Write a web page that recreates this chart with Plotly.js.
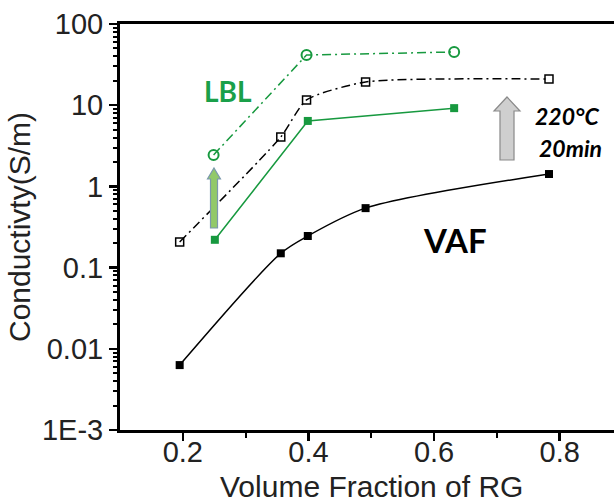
<!DOCTYPE html>
<html><head><meta charset="utf-8">
<script src="https://cdn.plot.ly/plotly-3.0.1.min.js"></script>
<style>html,body{margin:0;padding:0;background:#fff}#plot{width:614px;height:504px}</style>
</head><body><div id="plot"></div>
<script>
// Data
const vafX = [0.195, 0.356, 0.399, 0.491, 0.783];
const vafY = [0.0063, 0.15, 0.245, 0.54, 1.42];
const vafAnnX = [0.195, 0.356, 0.397, 0.491, 0.783];
const vafAnnY = [0.207, 4.06, 11.6, 19.3, 21.0];
const lblX = [0.251, 0.399, 0.632];
const lblY = [0.22, 6.4, 9.2];
const lblAnnX = [0.249, 0.397, 0.632];
const lblAnnY = [2.44, 41.5, 45.2];
const yTickVals = [0.001, 0.01, 0.1, 1, 10, 100];
const yTickText = ['1E-3', '0.01', '0.1', '1', '10', '100'];
const xTickVals = [0.2, 0.4, 0.6, 0.8];
const xMinorVals = [0.3, 0.5, 0.7];
const yMinorVals = [];
for (let d = -3; d < 2; d++) for (let m = 2; m <= 9; m++) yMinorVals.push(m * Math.pow(10, d));

const green = '#17993f';
const dashdot = '9px,4px,2px,4px';
const traces = [
  {x: vafX, y: vafY, mode: 'lines+markers', line: {color: '#000', width: 1.5, shape: 'spline', smoothing: 0.8},
   marker: {symbol: 'square', size: 8, color: '#000'}},
  {x: vafAnnX, y: vafAnnY, mode: 'lines+markers', line: {color: '#000', width: 1.5, shape: 'spline', smoothing: 0.6, dash: dashdot},
   marker: {symbol: 'square-open', size: 8, color: '#000', line: {width: 1.5}}},
  {x: lblX, y: lblY, mode: 'lines+markers', line: {color: green, width: 1.5},
   marker: {symbol: 'square', size: 8, color: green}},
  {x: lblAnnX, y: lblAnnY, mode: 'lines+markers', line: {color: green, width: 1.5, dash: dashdot},
   marker: {symbol: 'circle-open', size: 10, color: green, line: {width: 2}}}
];

// pixel -> paper helpers for decorative shapes/labels
const L = 120, T = 24, W = 494, H = 406;
const px = v => (v - L) / W, py = v => (T + H - v) / H;
function arrow(cx, tip, headBase, bottom, bodyHalf, headHalf) {
  const pts = [[cx, tip], [cx + headHalf, headBase], [cx + bodyHalf, headBase], [cx + bodyHalf, bottom],
               [cx - bodyHalf, bottom], [cx - bodyHalf, headBase], [cx - headHalf, headBase]];
  return 'M' + pts.map(p => px(p[0]).toFixed(4) + ',' + py(p[1]).toFixed(4)).join(' L') + ' Z';
}
function label(x, y, text, size, color, family) {
  return {xref: 'paper', yref: 'paper', x: px(x), y: py(y), text: text, showarrow: false,
    xanchor: 'center', yanchor: 'middle', font: {family: family || 'Lato, sans-serif', size: size, color: color}};
}
const xRange = [0.1, 0.8865];

const layout = {
  width: 614, height: 504,
  margin: {l: L, r: 0, t: T, b: 504 - T - H},
  showlegend: false,
  paper_bgcolor: '#fff', plot_bgcolor: '#fff',
  font: {family: 'Liberation Sans, Arial, sans-serif', color: '#222'},
  xaxis: {range: xRange, showgrid: false, zeroline: false, showline: true, linewidth: 3, linecolor: '#000',
    mirror: true, ticks: 'outside', ticklen: 8, tickwidth: 2.5, tickcolor: '#000', ticklabelstandoff: -14,
    tickvals: xTickVals, ticktext: xTickVals.map(String), tickfont: {size: 29, color: '#222'},
    minor: {tickvals: xMinorVals, ticks: 'outside', ticklen: 5, tickwidth: 2, tickcolor: '#000'}},
  yaxis: {type: 'log', range: [-3, 2], showgrid: false, zeroline: false, showline: true, linewidth: 3, linecolor: '#000',
    ticks: 'outside', ticklen: 8, tickwidth: 2.5, tickcolor: '#000',
    tickvals: yTickVals, ticktext: yTickText, tickfont: {size: 29, color: '#222'},
    minor: {tickvals: yMinorVals, ticks: 'outside', ticklen: 4, tickwidth: 2, tickcolor: '#000'},
    title: {text: 'Conductivty(S/m)', font: {size: 30, color: '#222'}, standoff: 3}},
  shapes: [
    {type: 'path', xref: 'paper', yref: 'paper', path: arrow(214, 168, 179, 228, 3.5, 6.5),
     fillcolor: '#92c969', line: {color: '#7b98ad', width: 1.2}},
    {type: 'path', xref: 'paper', yref: 'paper', path: arrow(507, 97, 111, 160, 7, 13),
     fillcolor: '#cfcfcf', line: {color: '#8a8a8a', width: 1.2}}
  ],
  annotations: [
    label(371, 486, 'Volume Fraction of RG', 30, '#222', 'Liberation Sans, Arial, sans-serif'),
    label(228, 91, '<b>LBL</b>', 28, '#1aa04a'),
    label(455, 240, '<b>VAF</b>', 33, '#000'),
    label(567, 116, '<b><i>220°C</i></b>', 23, '#000'),
    label(570, 148, '<b><i>20min</i></b>', 23, '#000')
  ]
};
Plotly.newPlot('plot', traces, layout, {staticPlot: true, displayModeBar: false});
</script></body></html>
